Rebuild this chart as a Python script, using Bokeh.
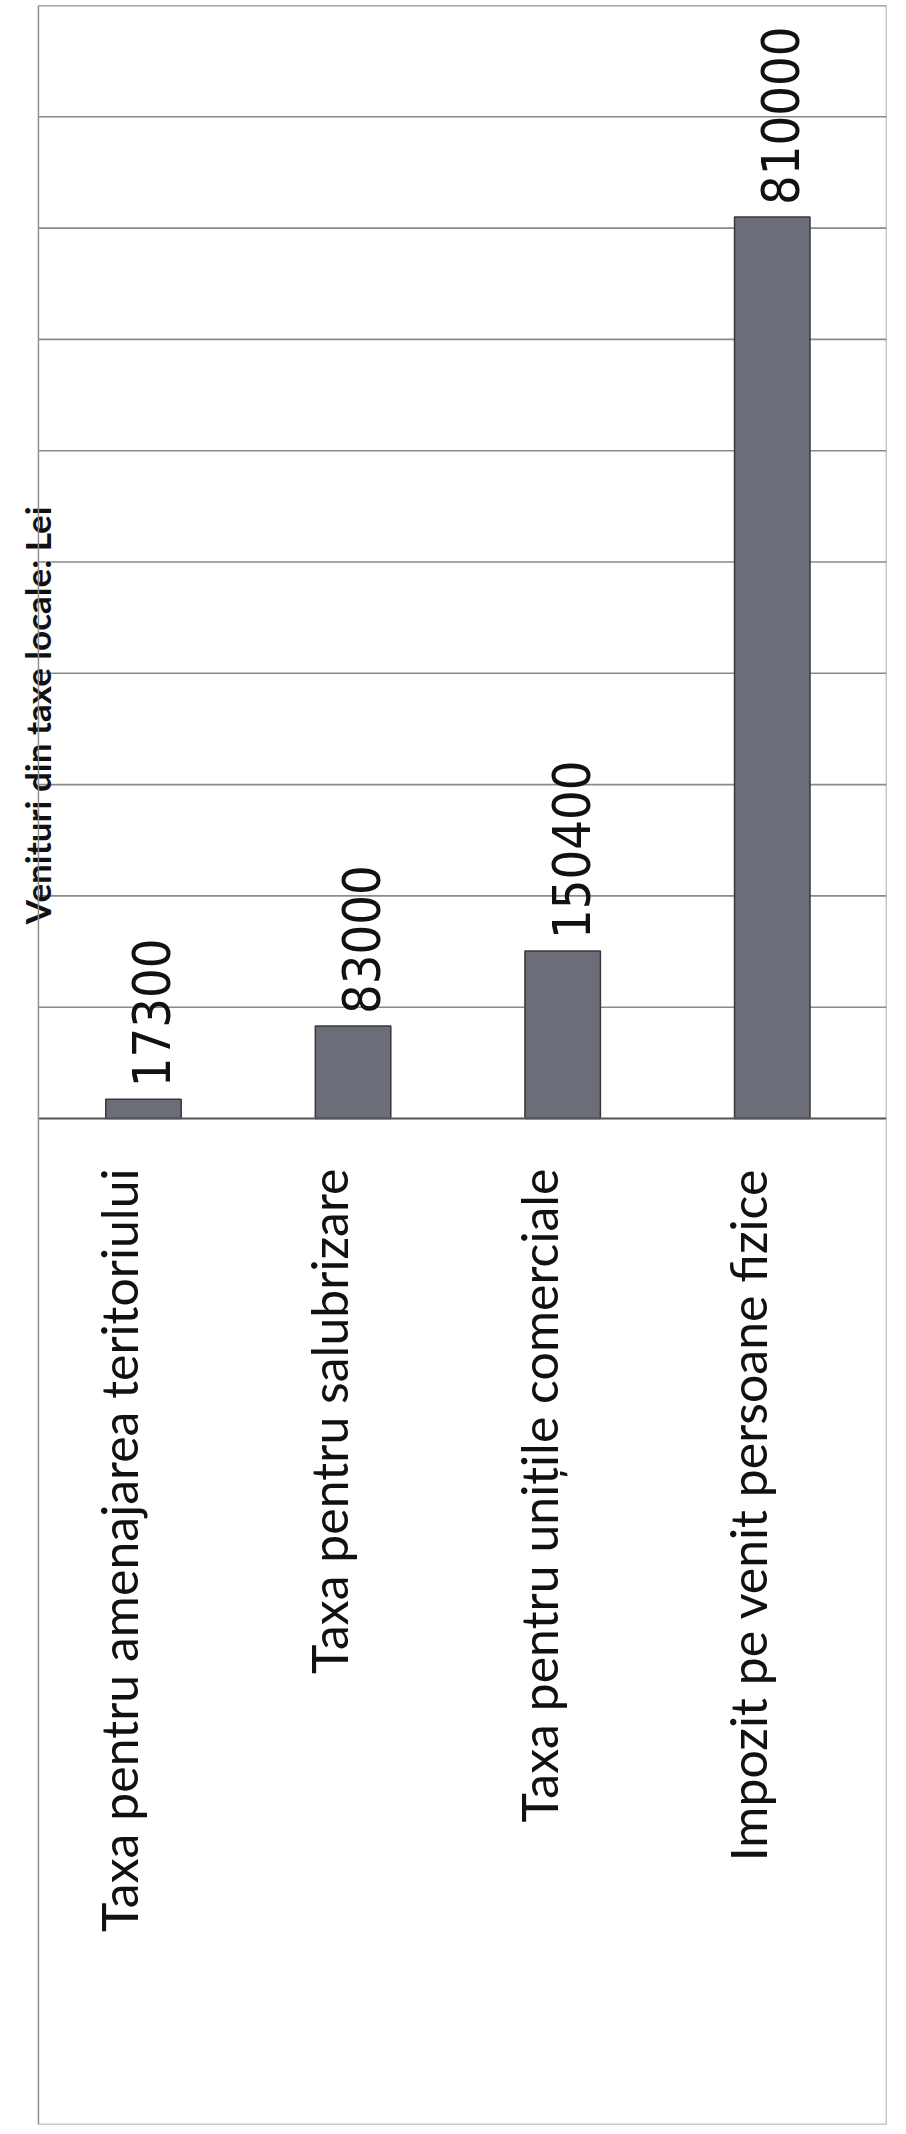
import math
from bokeh.plotting import figure
from bokeh.models import ColumnDataSource, Range1d, BoxAnnotation
from bokeh.core.properties import value
from bokeh.embed import file_html
from bokeh.resources import INLINE

# ---- data ----
categories = [
    "Taxa pentru amenajarea teritoriului",
    "Taxa pentru salubrizare",
    "Taxa pentru unițile comerciale",
    "Impozit pe venit persoane fizice",
]
values = [17300, 83000, 150400, 810000]
value_labels = ["17300", "83000", "150400", "810000"]
grid_ticks = [100000, 200000, 300000, 400000, 500000,
              600000, 700000, 800000, 900000, 1000000]
title_text = "Venituri din taxe locale: Lei"

# layout helpers (category units along x)
X_START, X_END = -0.682, 3.545
BOX_LEFT = -0.501       # left edge of the chart box
TITLE_X = -0.5102       # title baseline, just left of the box

positions = list(range(len(categories)))
src = ColumnDataSource(dict(x=positions, top=values, cat=categories, lab=value_labels))
grid_src = ColumnDataSource(dict(y=grid_ticks))

p = figure(width=904, height=2132,
           x_range=Range1d(X_START, X_END), y_range=Range1d(-903900, 1000000),
           output_backend="svg", toolbar_location=None,
           min_border_left=0, min_border_right=18,
           min_border_top=5, min_border_bottom=8)
p.xaxis.visible = False
p.yaxis.visible = False
p.xgrid.visible = False
p.ygrid.visible = False
p.background_fill_color = "white"
p.border_fill_color = "white"
p.outline_line_color = None

# gridlines, drawn only inside the chart box
p.segment(x0=BOX_LEFT, x1=X_END, y0="y", y1="y", source=grid_src,
          line_color="#8a8a8a", line_width=1.6)

p.vbar(x="x", top="top", bottom=0, width=0.36, source=src,
       fill_color="#6b6e78", line_color="#383838", line_width=1.5)

# category axis line at 0
p.segment(x0=[BOX_LEFT], x1=[X_END], y0=[0], y1=[0],
          line_color="#555555", line_width=1.8)

# chart box border
p.add_layout(BoxAnnotation(left=BOX_LEFT, fill_alpha=0, fill_color=None,
                           line_color="#8f8f8f", line_width=1.5, line_alpha=1))

p.text(x="x", y="top", text="lab", source=src, angle=math.pi / 2,
       text_align="left", text_baseline="middle", x_offset=8, y_offset=-12,
       text_font=value("DejaVu Sans Condensed"), text_font_size="52px",
       text_color="#111111")

p.text(x="x", y=0, text="cat", source=src, angle=math.pi / 2,
       text_align="right", text_baseline="middle", x_offset=-24, y_offset=50,
       text_font=value("Lato"), text_font_size="50px", text_color="#111111")

p.text(x=[TITLE_X], y=[549900], text=[title_text], angle=math.pi / 2,
       text_align="right", text_baseline="alphabetic",
       text_font=value("Lato"), text_font_style="bold",
       text_font_size="35px", text_color="#111111")

open("out.html", "w").write(file_html(p, INLINE))
